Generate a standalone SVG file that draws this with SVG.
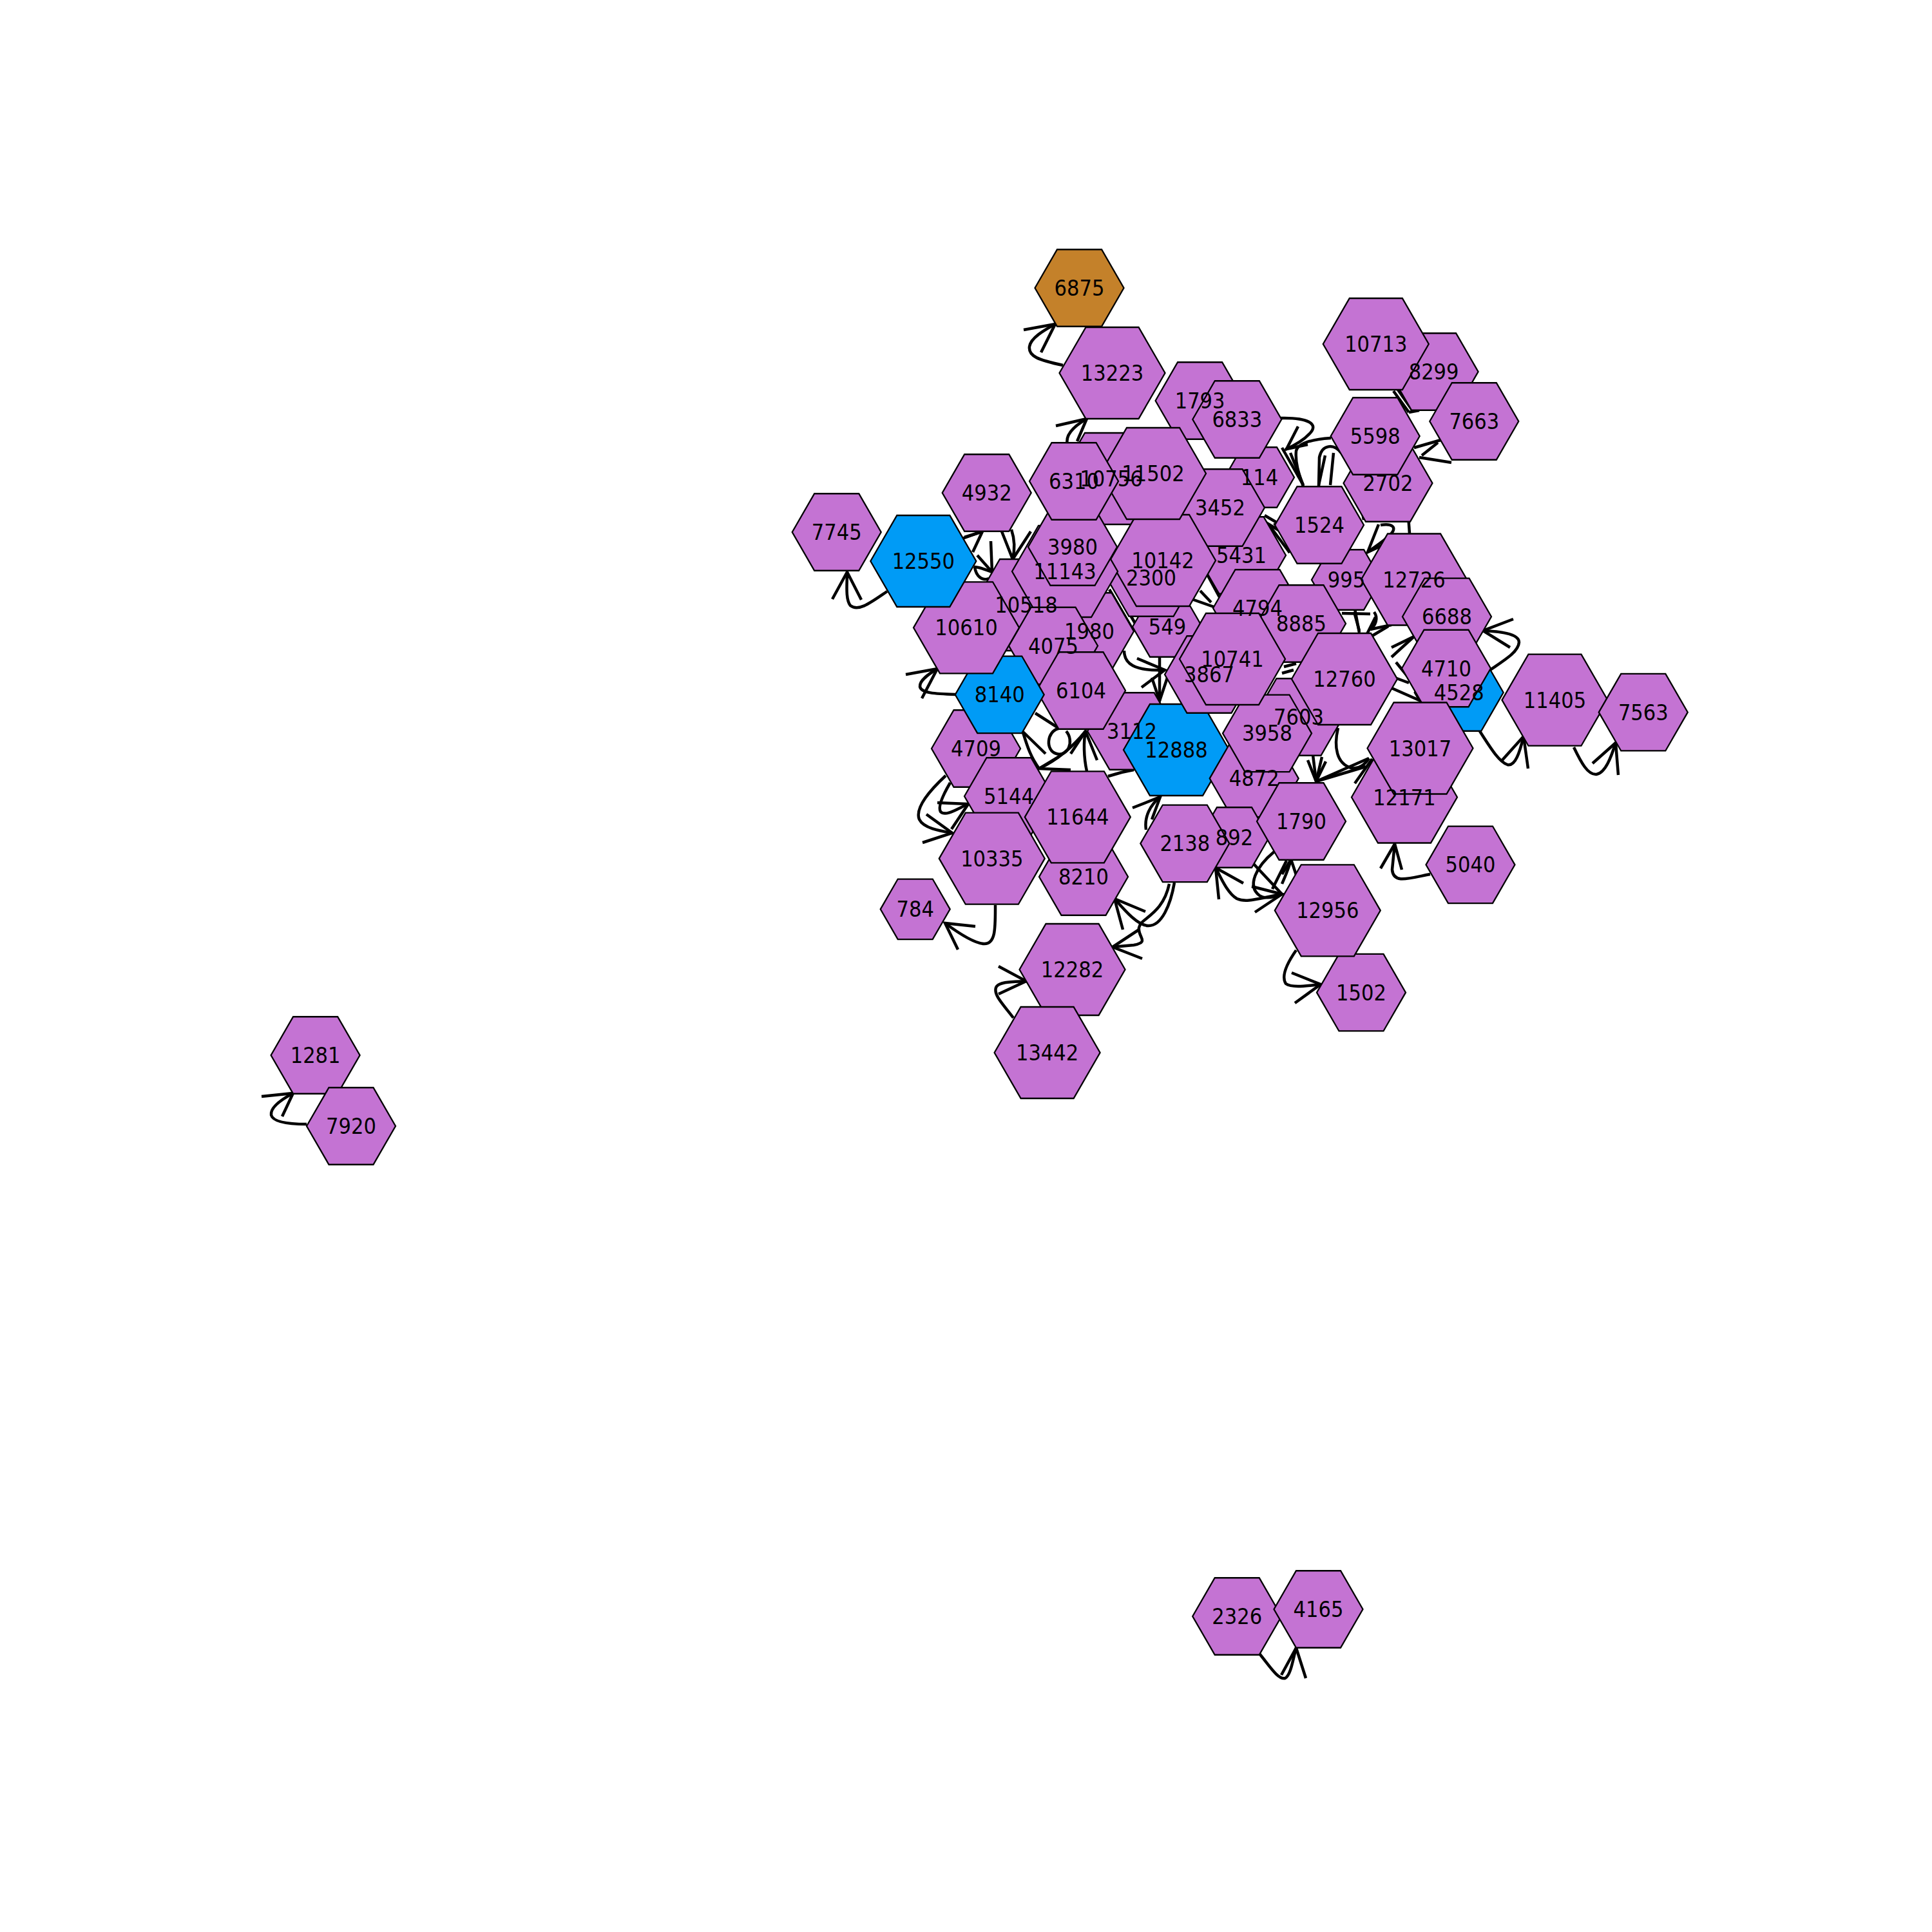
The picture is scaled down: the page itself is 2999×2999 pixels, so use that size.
<svg xmlns="http://www.w3.org/2000/svg" xmlns:xlink="http://www.w3.org/1999/xlink" width="2999" height="2999" viewBox="0 0 2999 2999">
<style>
.e{fill:none;stroke:#000;stroke-width:4.5;stroke-linejoin:miter}
.hx{stroke:#000;stroke-width:2.3}
.p{fill:#C473D3}
.b{fill:#009BF6}
.o{fill:#C4812A}
.lb{font-family:"DejaVu Sans Condensed","DejaVu Sans",sans-serif;font-stretch:condensed;font-size:34px;fill:#000;text-anchor:middle}
</style>
<defs>
<polygon id="hN" points="-69,0 -34.5,-59.76 34.5,-59.76 69,0 34.5,59.76 -34.5,59.76"/>
<polygon id="hL" points="-82,0 -41,-71.01 41,-71.01 82,0 41,71.01 -41,71.01"/>
<polygon id="hS" points="-54,0 -27,-46.77 27,-46.77 54,0 27,46.77 -27,46.77"/>
</defs>
<rect width="2999" height="2999" fill="#fff"/>
<g id="connectors">
<path class="e" d="M1650,567 C1612,559 1596,553 1598,538 C1600,524 1622,512 1638,503"/><path class="e" d="M1589,512 L1638,503 L1616,547"/>
<path class="e" d="M1657,690 C1653,675 1668,661 1687,650"/><path class="e" d="M1639,661 L1687,650 L1672,685"/>
<path class="e" d="M1377,918 C1352,935 1333,950 1320,940 C1312,930 1315,905 1315,888"/><path class="e" d="M1292,930 L1315,888 L1337,931"/>
<path class="e" d="M1483,1078 C1452,1077 1430,1076 1428,1066 C1427,1056 1442,1046 1455,1038"/><path class="e" d="M1406,1047 L1455,1038 L1431,1084"/>
<path class="e" d="M1545,1405 C1545,1440 1546,1466 1527,1465 C1512,1464 1490,1450 1467,1433"/><path class="e" d="M1514,1438 L1467,1433 L1487,1474"/>
<path class="e" d="M1573,1580 C1558,1560 1542,1545 1546,1533 C1550,1523 1575,1524 1593,1523"/><path class="e" d="M1550,1500 L1593,1523 L1550,1543"/>
<path class="e" d="M1823,1370 C1817,1405 1803,1438 1782,1437 C1765,1436 1745,1412 1730,1395"/><path class="e" d="M1778,1415 L1730,1395 L1743,1443"/>
<path class="e" d="M1815,1372 C1805,1420 1770,1425 1768,1440 C1766,1455 1785,1462 1760,1467 L1727,1470"/><path class="e" d="M1768,1443 L1727,1470 L1773,1488"/>
<path class="e" d="M1990,1388 C1955,1394 1935,1402 1920,1395 C1905,1386 1895,1362 1887,1347"/><path class="e" d="M1930,1371 L1887,1347 L1892,1396"/>
<path class="e" d="M2012,1475 C1998,1495 1988,1515 1996,1527 C2006,1534 2030,1530 2050,1528"/><path class="e" d="M2005,1510 L2050,1528 L2010,1557"/>
<path class="e" d="M1945,1340 L1990,1388"/><path class="e" d="M1948,1416 L1990,1388 L1943,1376"/>
<path class="e" d="M1978,1322 C1950,1345 1935,1375 1955,1390 C1965,1397 1980,1392 1990,1388"/>
<path class="e" d="M1990,1372 C1995,1360 2000,1350 2004,1334"/><path class="e" d="M1990,1357 L2004,1334 L2012,1358"/>
<path class="e" d="M1997,1336 L1975,1380"/>
<path class="e" d="M2220,1357 C2185,1364 2163,1372 2161,1350 L2165,1310"/><path class="e" d="M2143,1348 L2165,1310 L2176,1350"/>
<path class="e" d="M2297,1135 C2312,1158 2326,1182 2340,1187 C2352,1190 2359,1168 2365,1143"/><path class="e" d="M2330,1182 L2365,1143 L2372,1193"/>
<path class="e" d="M2443,1160 C2455,1185 2465,1203 2478,1202 C2492,1200 2501,1175 2508,1153"/><path class="e" d="M2472,1185 L2508,1153 L2512,1203"/>
<path class="e" d="M2313,1040 C2335,1025 2357,1012 2358,997 C2358,983 2325,980 2302,979"/><path class="e" d="M2349,961 L2302,979 L2344,1005"/>
<path class="e" d="M1955,2567 C1970,2585 1984,2608 1995,2605 C2004,2600 2007,2575 2012,2558"/><path class="e" d="M1989,2600 L2012,2558 L2027,2605"/>
<path class="e" d="M476,1745 C448,1745 424,1742 421,1731 C419,1718 440,1705 455,1697"/><path class="e" d="M406,1702 L455,1697 L438,1733"/>
<path class="e" d="M1468,1204 C1440,1230 1420,1255 1427,1272 C1434,1286 1460,1290 1478,1293"/><path class="e" d="M1438,1264 L1478,1293 L1432,1308"/>
<path class="e" d="M1475,1215 C1465,1232 1455,1252 1460,1260 C1468,1268 1485,1256 1503,1248"/><path class="e" d="M1455,1246 L1503,1248 L1477,1287"/>
<path class="e" d="M1607,1107 L1643,1130"/>
<path class="e" d="M1587,1135 L1623,1170"/>
<path class="e" d="M1588,1137 C1595,1160 1600,1175 1613,1193"/>
<path class="e" d="M1687,1197 C1682,1175 1682,1150 1685,1135"/><path class="e" d="M1662,1170 L1685,1135 L1703,1180"/>
<path class="e" d="M1613,1193 C1640,1180 1665,1160 1685,1135"/><path class="e" d="M1643,1175 L1613,1193 L1662,1195"/>
<path class="e" d="M1643,1131 C1625,1135 1622,1165 1640,1170 C1658,1175 1668,1150 1655,1135"/>
<path class="e" d="M1779,1288 C1776,1268 1785,1250 1801,1237"/><path class="e" d="M1758,1254 L1801,1237 L1788,1272"/>
<path class="e" d="M1720,1205 C1735,1200 1748,1197 1760,1195"/>
<path class="e" d="M1745,1010 C1745,1030 1760,1042 1808,1040"/><path class="e" d="M1765,1022 L1808,1040 L1772,1067"/>
<path class="e" d="M1800,1016 L1800,1088"/><path class="e" d="M1788,1052 L1800,1088 L1812,1052"/>
<path class="e" d="M1850,930 L1887,943"/><path class="e" d="M1863,917 L1880,935"/><path class="e" d="M1873,890 L1893,927"/>
<path class="e" d="M1970,815 L2002,858"/><path class="e" d="M1978,812 L2008,852"/>
<path class="e" d="M2083,952 L2127,953"/><path class="e" d="M2103,945 L2110,982"/><path class="e" d="M2120,988 L2135,958"/><path class="e" d="M2125,990 L2155,972"/>
<path class="e" d="M1993,1035 L2012,1030"/><path class="e" d="M1990,1045 L2008,1040"/>
<path class="e" d="M2038,1172 L2043,1213"/><path class="e" d="M2052,1175 L2043,1213"/><path class="e" d="M2125,1177 L2043,1213"/><path class="e" d="M2120,1190 L2043,1213"/>
<path class="e" d="M2077,1130 C2070,1160 2075,1185 2097,1192 C2110,1195 2120,1185 2125,1177"/>
<path class="e" d="M2030,1180 L2043,1213 L2058,1182"/>
<path class="e" d="M2103,1216 L2130,1178"/>
<path class="e" d="M2160,1005 L2195,988"/><path class="e" d="M2160,1020 L2195,988"/><path class="e" d="M2167,1028 L2185,1050"/><path class="e" d="M2160,1068 L2203,1087"/><path class="e" d="M2160,1050 L2187,1060"/>
<path class="e" d="M2127,977 L2160,970"/><path class="e" d="M2102,950 L2110,979"/><path class="e" d="M2133,950 C2140,960 2135,970 2128,977"/>
<path class="e" d="M1988,649 C2030,648 2048,658 2033,673 C2022,685 2008,692 1995,698"/><path class="e" d="M2015,662 L1997,697 L2030,690"/>
<path class="e" d="M1990,695 L2023,753"/><path class="e" d="M2003,703 L2023,753"/>
<path class="e" d="M2066,680 C2035,682 2015,688 2012,700 C2010,720 2018,740 2023,755"/>
<path class="e" d="M2082,703 C2070,688 2052,690 2048,710 L2047,755"/>
<path class="e" d="M2057,707 L2047,753"/><path class="e" d="M2070,703 L2065,753"/>
<path class="e" d="M2103,730 L2117,807"/><path class="e" d="M2110,728 L2123,804"/>
<path class="e" d="M1963,800 L1992,817"/><path class="e" d="M1960,808 L1988,825"/>
<path class="e" d="M2195,695 L2240,682"/><path class="e" d="M2203,710 L2253,718"/><path class="e" d="M2207,707 L2232,687"/>
<path class="e" d="M2163,607 L2187,640"/><path class="e" d="M2170,605 L2193,638"/><path class="e" d="M2187,640 L2203,637"/>
<path class="e" d="M1494,836 L1525,825"/><path class="e" d="M1497,834 L1525,825 L1510,857"/>
<path class="e" d="M1512,880 C1520,880 1530,884 1540,888"/><path class="e" d="M1538,840 L1540,888 L1517,862"/>
<path class="e" d="M1570,822 C1576,840 1575,855 1572,868"/><path class="e" d="M1555,825 L1572,868 L1600,825"/>
<path class="e" d="M1513,880 C1515,895 1525,902 1535,898"/>
<path class="e" d="M1722,915 L1757,975"/><path class="e" d="M1729,911 L1764,971"/>
<path class="e" d="M2143,815 C2160,812 2170,818 2158,830 C2148,840 2135,848 2123,857"/><path class="e" d="M2140,814 L2123,857 L2160,840"/>
<path class="e" d="M2186,800 L2188,828"/>
</g>
<g id="nodes">
<g id="node-995"><use xlink:href="#hS" href="#hS" class="hx p" x="2090" y="900"/></g>
<g id="node-1524"><use xlink:href="#hN" href="#hN" class="hx p" x="2048" y="815"/></g>
<g id="node-8299"><use xlink:href="#hN" href="#hN" class="hx p" x="2225.6" y="577"/></g>
<g id="node-10713"><use xlink:href="#hL" href="#hL" class="hx p" x="2135.8" y="534"/></g>
<g id="node-7663"><use xlink:href="#hN" href="#hN" class="hx p" x="2288.3" y="654"/></g>
<g id="node-2702"><use xlink:href="#hN" href="#hN" class="hx p" x="2154.5" y="750"/></g>
<g id="node-5598"><use xlink:href="#hN" href="#hN" class="hx p" x="2134.7" y="677"/></g>
<g id="node-1793"><use xlink:href="#hN" href="#hN" class="hx p" x="1862.6" y="622"/></g>
<g id="node-114"><use xlink:href="#hS" href="#hS" class="hx p" x="1955" y="741"/></g>
<g id="node-6833"><use xlink:href="#hN" href="#hN" class="hx p" x="1920.3" y="651"/></g>
<g id="node-13223"><use xlink:href="#hL" href="#hL" class="hx p" x="1726.5" y="579"/></g>
<g id="node-6875"><use xlink:href="#hN" href="#hN" class="hx o" x="1675.5" y="447"/></g>
<g id="node-5431"><use xlink:href="#hN" href="#hN" class="hx p" x="1927" y="862"/></g>
<g id="node-3452"><use xlink:href="#hN" href="#hN" class="hx p" x="1894" y="788"/></g>
<g id="node-10756"><use xlink:href="#hL" href="#hL" class="hx p" x="1725" y="743"/></g>
<g id="node-549"><use xlink:href="#hS" href="#hS" class="hx p" x="1812" y="973"/></g>
<g id="node-2300"><use xlink:href="#hN" href="#hN" class="hx p" x="1787" y="897"/></g>
<g id="node-10142"><use xlink:href="#hL" href="#hL" class="hx p" x="1805" y="870"/></g>
<g id="node-11502"><use xlink:href="#hL" href="#hL" class="hx p" x="1790" y="735"/></g>
<g id="node-10518"><use xlink:href="#hL" href="#hL" class="hx p" x="1593" y="939"/></g>
<g id="node-1980"><use xlink:href="#hN" href="#hN" class="hx p" x="1691" y="980"/></g>
<g id="node-11143"><use xlink:href="#hL" href="#hL" class="hx p" x="1653" y="887"/></g>
<g id="node-3980"><use xlink:href="#hN" href="#hN" class="hx p" x="1665" y="849"/></g>
<g id="node-6310"><use xlink:href="#hN" href="#hN" class="hx p" x="1667" y="747"/></g>
<g id="node-4932"><use xlink:href="#hN" href="#hN" class="hx p" x="1531.7" y="765"/></g>
<g id="node-7745"><use xlink:href="#hN" href="#hN" class="hx p" x="1298.7" y="826"/></g>
<g id="node-3112"><use xlink:href="#hN" href="#hN" class="hx p" x="1757" y="1135"/></g>
<g id="node-4075"><use xlink:href="#hN" href="#hN" class="hx p" x="1635" y="1002.5"/></g>
<g id="node-4709"><use xlink:href="#hN" href="#hN" class="hx p" x="1515" y="1162"/></g>
<g id="node-6104"><use xlink:href="#hN" href="#hN" class="hx p" x="1678" y="1072"/></g>
<g id="node-8140"><use xlink:href="#hN" href="#hN" class="hx b" x="1551.7" y="1078.3"/></g>
<g id="node-10610"><use xlink:href="#hL" href="#hL" class="hx p" x="1500" y="974.3"/></g>
<g id="node-12550"><use xlink:href="#hL" href="#hL" class="hx b" x="1433.3" y="871"/></g>
<g id="node-5144"><use xlink:href="#hN" href="#hN" class="hx p" x="1566" y="1236"/></g>
<g id="node-8210"><use xlink:href="#hN" href="#hN" class="hx p" x="1682" y="1361"/></g>
<g id="node-10335"><use xlink:href="#hL" href="#hL" class="hx p" x="1539.8" y="1332.7"/></g>
<g id="node-11644"><use xlink:href="#hL" href="#hL" class="hx p" x="1672.8" y="1268.3"/></g>
<g id="node-12888"><use xlink:href="#hL" href="#hL" class="hx b" x="1826" y="1164"/></g>
<g id="node-4872"><use xlink:href="#hN" href="#hN" class="hx p" x="1946.7" y="1208.3"/></g>
<g id="node-3867"><use xlink:href="#hN" href="#hN" class="hx p" x="1877" y="1047"/></g>
<g id="node-4794"><use xlink:href="#hN" href="#hN" class="hx p" x="1952" y="944"/></g>
<g id="node-8885"><use xlink:href="#hN" href="#hN" class="hx p" x="2020" y="968"/></g>
<g id="node-7603"><use xlink:href="#hN" href="#hN" class="hx p" x="2016" y="1113"/></g>
<g id="node-3958"><use xlink:href="#hN" href="#hN" class="hx p" x="1967" y="1138.3"/></g>
<g id="node-12760"><use xlink:href="#hL" href="#hL" class="hx p" x="2087" y="1054"/></g>
<g id="node-10741"><use xlink:href="#hL" href="#hL" class="hx p" x="1913" y="1023"/></g>
<g id="node-12726"><use xlink:href="#hL" href="#hL" class="hx p" x="2195" y="899.5"/></g>
<g id="node-6688"><use xlink:href="#hN" href="#hN" class="hx p" x="2246" y="957.3"/></g>
<g id="node-4528"><use xlink:href="#hN" href="#hN" class="hx b" x="2264.7" y="1075"/></g>
<g id="node-4710"><use xlink:href="#hN" href="#hN" class="hx p" x="2245" y="1037.5"/></g>
<g id="node-12171"><use xlink:href="#hL" href="#hL" class="hx p" x="2180" y="1237.5"/></g>
<g id="node-13017"><use xlink:href="#hL" href="#hL" class="hx p" x="2204.5" y="1161.5"/></g>
<g id="node-11405"><use xlink:href="#hL" href="#hL" class="hx p" x="2413.5" y="1086.7"/></g>
<g id="node-7563"><use xlink:href="#hN" href="#hN" class="hx p" x="2550.8" y="1105.7"/></g>
<g id="node-5040"><use xlink:href="#hN" href="#hN" class="hx p" x="2282.5" y="1342.3"/></g>
<g id="node-892"><use xlink:href="#hS" href="#hS" class="hx p" x="1916" y="1300"/></g>
<g id="node-2138"><use xlink:href="#hN" href="#hN" class="hx p" x="1839.3" y="1309.3"/></g>
<g id="node-1790"><use xlink:href="#hN" href="#hN" class="hx p" x="2020" y="1275"/></g>
<g id="node-1502"><use xlink:href="#hN" href="#hN" class="hx p" x="2113" y="1540.7"/></g>
<g id="node-12956"><use xlink:href="#hL" href="#hL" class="hx p" x="2060.8" y="1413.3"/></g>
<g id="node-784"><use xlink:href="#hS" href="#hS" class="hx p" x="1420.7" y="1411.3"/></g>
<g id="node-12282"><use xlink:href="#hL" href="#hL" class="hx p" x="1664.5" y="1505"/></g>
<g id="node-13442"><use xlink:href="#hL" href="#hL" class="hx p" x="1625.6" y="1634"/></g>
<g id="node-1281"><use xlink:href="#hN" href="#hN" class="hx p" x="489.6" y="1638"/></g>
<g id="node-7920"><use xlink:href="#hN" href="#hN" class="hx p" x="545" y="1748"/></g>
<g id="node-2326"><use xlink:href="#hN" href="#hN" class="hx p" x="1920.2" y="2509"/></g>
<g id="node-4165"><use xlink:href="#hN" href="#hN" class="hx p" x="2046.5" y="2498"/></g>
</g>
<g id="labels" class="lb">
<text x="2090" y="912">995</text>
<text x="2048" y="827">1524</text>
<text x="2225.6" y="589">8299</text>
<text x="2135.8" y="546">10713</text>
<text x="2288.3" y="666">7663</text>
<text x="2154.5" y="762">2702</text>
<text x="2134.7" y="689">5598</text>
<text x="1862.6" y="634">1793</text>
<text x="1955" y="753">114</text>
<text x="1920.3" y="663">6833</text>
<text x="1726.5" y="591">13223</text>
<text x="1675.5" y="459">6875</text>
<text x="1927" y="874">5431</text>
<text x="1894" y="800">3452</text>
<text x="1725" y="755">10756</text>
<text x="1812" y="985">549</text>
<text x="1787" y="909">2300</text>
<text x="1805" y="882">10142</text>
<text x="1790" y="747">11502</text>
<text x="1593" y="951">10518</text>
<text x="1691" y="992">1980</text>
<text x="1653" y="899">11143</text>
<text x="1665" y="861">3980</text>
<text x="1667" y="759">6310</text>
<text x="1531.7" y="777">4932</text>
<text x="1298.7" y="838">7745</text>
<text x="1757" y="1147">3112</text>
<text x="1635" y="1014.5">4075</text>
<text x="1515" y="1174">4709</text>
<text x="1678" y="1084">6104</text>
<text x="1551.7" y="1090.3">8140</text>
<text x="1500" y="986.3">10610</text>
<text x="1433.3" y="883">12550</text>
<text x="1566" y="1248">5144</text>
<text x="1682" y="1373">8210</text>
<text x="1539.8" y="1344.7">10335</text>
<text x="1672.8" y="1280.3">11644</text>
<text x="1826" y="1176">12888</text>
<text x="1946.7" y="1220.3">4872</text>
<text x="1877" y="1059">3867</text>
<text x="1952" y="956">4794</text>
<text x="2020" y="980">8885</text>
<text x="2016" y="1125">7603</text>
<text x="1967" y="1150.3">3958</text>
<text x="2087" y="1066">12760</text>
<text x="1913" y="1035">10741</text>
<text x="2195" y="911.5">12726</text>
<text x="2246" y="969.3">6688</text>
<text x="2264.7" y="1087">4528</text>
<text x="2245" y="1049.5">4710</text>
<text x="2180" y="1249.5">12171</text>
<text x="2204.5" y="1173.5">13017</text>
<text x="2413.5" y="1098.7">11405</text>
<text x="2550.8" y="1117.7">7563</text>
<text x="2282.5" y="1354.3">5040</text>
<text x="1916" y="1312">892</text>
<text x="1839.3" y="1321.3">2138</text>
<text x="2020" y="1287">1790</text>
<text x="2113" y="1552.7">1502</text>
<text x="2060.8" y="1425.3">12956</text>
<text x="1420.7" y="1423.3">784</text>
<text x="1664.5" y="1517">12282</text>
<text x="1625.6" y="1646">13442</text>
<text x="489.6" y="1650">1281</text>
<text x="545" y="1760">7920</text>
<text x="1920.2" y="2521">2326</text>
<text x="2046.5" y="2510">4165</text>
</g>
</svg>
